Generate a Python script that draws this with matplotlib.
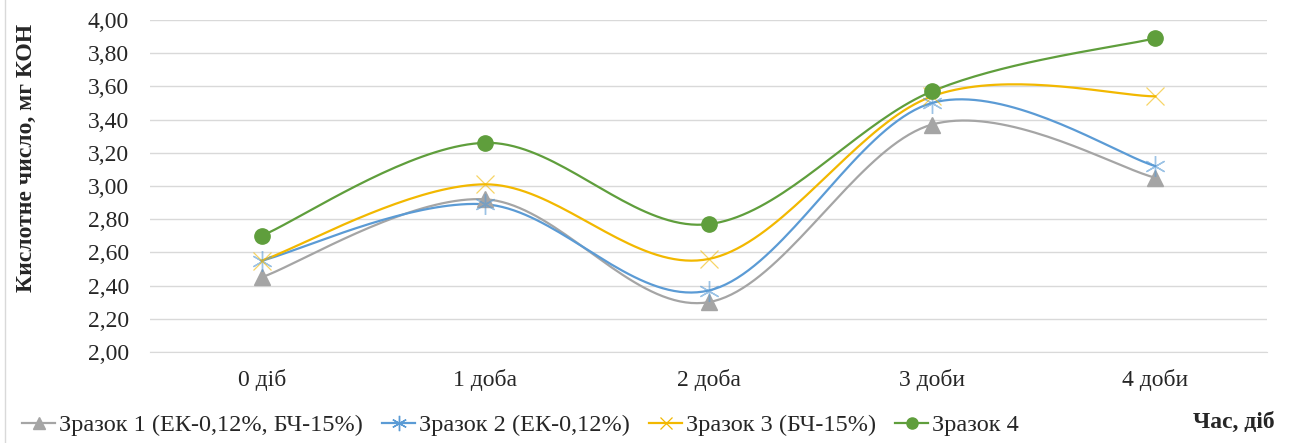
import numpy as np
import matplotlib
matplotlib.use("Agg")
import matplotlib.pyplot as plt
from matplotlib.ticker import FuncFormatter
from matplotlib.lines import Line2D

categories = ["0 діб", "1 доба", "2 доба", "3 доби", "4 доби"]
s1 = [2.45, 2.92, 2.30, 3.37, 3.05]
s2 = [2.55, 2.89, 2.37, 3.50, 3.12]
s3 = [2.55, 3.01, 2.56, 3.54, 3.54]
s4 = [2.70, 3.26, 2.77, 3.57, 3.89]
names = ["Зразок 1 (ЕК-0,12%, БЧ-15%)", "Зразок 2 (ЕК-0,12%)", "Зразок 3 (БЧ-15%)", "Зразок 4"]

plt.rcParams['font.family'] = ['Liberation Serif', 'DejaVu Serif']
TXT = "#262626"

def smooth(xs, ys, n=40):
    xs = np.asarray(xs, float); ys = np.asarray(ys, float)
    P = np.column_stack([xs, ys])
    Pe = np.vstack([P[0], P, P[-1]])
    out = []
    for i in range(len(P) - 1):
        p0, p1, p2, p3 = Pe[i], Pe[i+1], Pe[i+2], Pe[i+3]
        c1 = p1 + (p2 - p0) / 6.0
        c2 = p2 - (p3 - p1) / 6.0
        t = np.linspace(0, 1, n)[:, None]
        b = ((1-t)**3)*p1 + 3*((1-t)**2)*t*c1 + 3*(1-t)*t**2*c2 + t**3*p2
        out.append(b if i == 0 else b[1:])
    B = np.vstack(out)
    return B[:, 0], B[:, 1]

W, H = 1296, 443
fig = plt.figure(figsize=(W/100, H/100), dpi=100)
ax = fig.add_axes([150/W, 1-352/H, (1267-150)/W, (352-20)/H])

x = np.arange(len(categories))
styles = [
    dict(color="#a5a5a5", marker="^", ms=12, mew=1, lms=8),
    dict(color="#5b9bd5", marker=(6, 2, 0), ms=15, mew=1.0, lms=11),
    dict(color="#f2b800", marker="x", ms=13, mew=0.9, lms=9),
    dict(color="#5f9e3c", marker="o", ms=11, mew=1, lms=8),
]
series = [s1, s2, s3, s4]
handles = []
for ys, st, nm in zip(series, styles, names):
    sx, sy = smooth(x, ys)
    ax.plot(sx, sy, color=st["color"], lw=1.6, zorder=3)
    ax.plot(x, ys, linestyle="none", marker=st["marker"], ms=st["ms"], mew=st["mew"],
            color=st["color"], mfc=st["color"], mec=st["color"], zorder=4,
            alpha=1.0 if st["marker"] in ("^", "o") else 0.6)
    h = Line2D([], [], color=st["color"], lw=1.6, marker=st["marker"], ms=st["lms"],
               mew=st["mew"], mfc=st["color"], mec=st["color"], label=nm)
    handles.append(h)

ax.set_xlim(-0.5, len(categories) - 0.5)
ax.set_ylim(2.0, 4.0)
ax.set_yticks(np.arange(2.0, 4.001, 0.2))
ax.yaxis.set_major_formatter(FuncFormatter(lambda v, p: f"{v:.2f}".replace(".", ",")))
ax.set_xticks(x)
ax.set_xticklabels(categories)
ax.grid(axis="y", color="#d9d9d9", lw=1)
ax.set_axisbelow(True)
for sp in ["top", "right", "left"]:
    ax.spines[sp].set_visible(False)
ax.spines["bottom"].set_color("#d9d9d9")
ax.tick_params(length=0, labelsize=17, colors=TXT)
ax.tick_params(axis="x", pad=12)
ax.tick_params(axis="y", pad=15)

fig.add_artist(Line2D([4.5/W, 4.5/W], [0, 1], color="#d9d9d9", lw=1, transform=fig.transFigure))

fig.text(26/W, 1-158/H, "Кислотне число, мг КОН", rotation=90, fontsize=17,
         fontweight="bold", ha="center", va="center", color=TXT)
fig.text(1275/W, 1-428/H, "Час, діб", fontsize=17, fontweight="bold", ha="right",
         va="baseline", color=TXT)

fig.legend(handles=handles, loc="center left", bbox_to_anchor=(22/W, 1-425/H), ncol=4,
           frameon=False, fontsize=17.5, handlelength=1.36, handletextpad=0.15,
           columnspacing=0.8, borderaxespad=0, borderpad=0, labelcolor=TXT)

fig.savefig("out.png", dpi=100)
